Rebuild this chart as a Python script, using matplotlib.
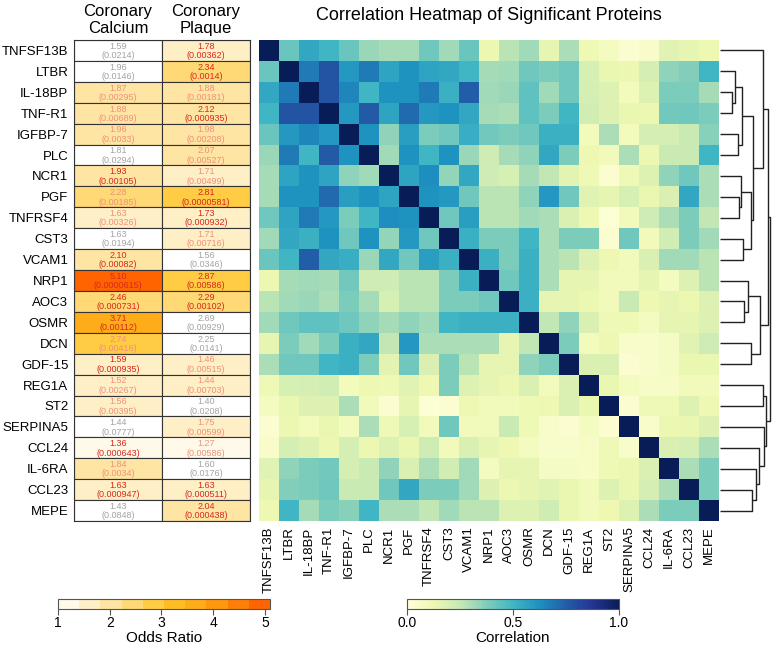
import numpy as np
import matplotlib
matplotlib.use("Agg")
import matplotlib.pyplot as plt
from matplotlib.colors import LinearSegmentedColormap, Normalize
from matplotlib.patches import Rectangle
from matplotlib.cm import ScalarMappable

plt.rcParams['font.family'] = ['Liberation Sans', 'DejaVu Sans']

proteins = ["TNFSF13B", "LTBR", "IL-18BP", "TNF-R1", "IGFBP-7", "PLC", "NCR1", "PGF",
            "TNFRSF4", "CST3", "VCAM1", "NRP1", "AOC3", "OSMR", "DCN", "GDF-15",
            "REG1A", "ST2", "SERPINA5", "CCL24", "IL-6RA", "CCL23", "MEPE"]

# odds ratios and p values, coronary calcium
or_calcium = [1.59, 1.96, 1.87, 1.88, 1.96, 1.81, 1.93, 2.28, 1.63, 1.63, 2.10, 5.10,
              2.46, 3.71, 2.74, 1.59, 1.52, 1.56, 1.44, 1.36, 1.84, 1.63, 1.43]
p_calcium = [0.0214, 0.0146, 0.00295, 0.00689, 0.0033, 0.0294, 0.00105, 0.00185,
             0.00326, 0.0194, 0.00082, 0.0000615, 0.000731, 0.00112, 0.00416, 0.000935,
             0.00267, 0.00395, 0.0777, 0.000643, 0.0034, 0.000947, 0.0848]
# text colour class: r = red, s = salmon, g = grey (not significant)
cls_calcium = ["g", "g", "s", "s", "s", "g", "r", "s", "s", "g", "r", "r",
               "r", "r", "s", "r", "s", "s", "g", "r", "s", "r", "g"]

# coronary plaque
or_plaque = [1.78, 2.34, 1.88, 2.12, 1.98, 2.07, 1.71, 2.81, 1.73, 1.71, 1.56, 2.87,
             2.29, 2.69, 2.25, 1.46, 1.44, 1.40, 1.75, 1.27, 1.60, 1.63, 2.04]
p_plaque = [0.00362, 0.0014, 0.00181, 0.000935, 0.00208, 0.00527, 0.00499, 0.0000581,
            0.000932, 0.00716, 0.0346, 0.00586, 0.00102, 0.00929, 0.0141, 0.00515,
            0.00703, 0.0208, 0.00599, 0.00586, 0.0176, 0.000511, 0.000438]
cls_plaque = ["r", "r", "s", "r", "s", "s", "s", "r", "r", "s", "g", "r",
              "r", "g", "g", "s", "s", "g", "s", "s", "g", "r", "r"]

# upper triangle of the correlation matrix, row i holds columns i+1..22
corr_upper = [
    [0.42, 0.55, 0.50, 0.42, 0.33, 0.31, 0.31, 0.41, 0.32, 0.42, 0.13, 0.27, 0.32, 0.15, 0.30, 0.11, 0.08, 0.03, 0.05, 0.17, 0.15, 0.12],
    [0.68, 0.78, 0.60, 0.68, 0.56, 0.62, 0.56, 0.55, 0.50, 0.31, 0.32, 0.41, 0.38, 0.41, 0.20, 0.14, 0.13, 0.21, 0.35, 0.37, 0.50],
    [0.78, 0.65, 0.50, 0.62, 0.62, 0.68, 0.52, 0.75, 0.32, 0.33, 0.44, 0.32, 0.41, 0.21, 0.18, 0.09, 0.18, 0.38, 0.38, 0.31],
    [0.60, 0.76, 0.56, 0.72, 0.60, 0.62, 0.55, 0.31, 0.30, 0.44, 0.38, 0.50, 0.22, 0.18, 0.14, 0.13, 0.40, 0.41, 0.38],
    [0.62, 0.35, 0.58, 0.38, 0.41, 0.53, 0.40, 0.38, 0.41, 0.52, 0.52, 0.09, 0.30, 0.09, 0.21, 0.21, 0.24, 0.36],
    [0.32, 0.62, 0.50, 0.62, 0.33, 0.23, 0.31, 0.35, 0.55, 0.38, 0.12, 0.10, 0.30, 0.13, 0.24, 0.24, 0.50],
    [0.56, 0.63, 0.34, 0.55, 0.23, 0.20, 0.31, 0.26, 0.16, 0.11, 0.03, 0.11, 0.18, 0.35, 0.41, 0.30],
    [0.62, 0.60, 0.41, 0.27, 0.27, 0.35, 0.60, 0.41, 0.17, 0.15, 0.20, 0.14, 0.19, 0.55, 0.30],
    [0.41, 0.58, 0.27, 0.27, 0.32, 0.30, 0.19, 0.12, 0.02, 0.10, 0.23, 0.30, 0.38, 0.26],
    [0.52, 0.38, 0.38, 0.50, 0.30, 0.38, 0.38, 0.03, 0.41, 0.10, 0.22, 0.38, 0.32],
    [0.52, 0.38, 0.52, 0.30, 0.27, 0.18, 0.12, 0.10, 0.19, 0.32, 0.32, 0.27],
    [0.41, 0.52, 0.30, 0.15, 0.15, 0.10, 0.10, 0.15, 0.08, 0.18, 0.27],
    [0.52, 0.15, 0.15, 0.13, 0.10, 0.24, 0.12, 0.15, 0.13, 0.18],
    [0.26, 0.35, 0.19, 0.11, 0.11, 0.08, 0.15, 0.15, 0.18],
    [0.38, 0.09, 0.12, 0.05, 0.05, 0.07, 0.17, 0.23],
    [0.19, 0.19, 0.03, 0.05, 0.07, 0.14, 0.14],
    [0.14, 0.08, 0.06, 0.06, 0.10, 0.10],
    [0.03, 0.11, 0.11, 0.18, 0.12],
    [0.05, 0.13, 0.14, 0.18],
    [0.19, 0.21, 0.30],
    [0.30, 0.38],
    [0.38],
]

# dendrogram merges: (child a, child b, height)
# leaves are 0..22 in row order, new clusters numbered from 23 on
merges = [
    (2, 3, 35), (1, 23, 46), (4, 5, 53), (24, 25, 66),
    (7, 8, 56), (6, 27, 63), (9, 10, 68), (28, 29, 93),
    (26, 30, 98), (0, 31, 128),
    (12, 13, 73), (11, 33, 83), (14, 15, 93), (34, 35, 121),
    (32, 36, 143),
    (16, 17, 128), (21, 22, 96), (20, 39, 108), (19, 40, 116), (18, 41, 131),
    (38, 42, 138), (37, 43, 151),
]

n = len(proteins)
corr = np.eye(n)
for i, row in enumerate(corr_upper):
    for k, v in enumerate(row):
        j = i + 1 + k
        corr[i, j] = v
        corr[j, i] = v

W, H = 772, 646
fig = plt.figure(figsize=(W / 100, H / 100), dpi=100)


def fax(x0, y0, x1, y1):
    return fig.add_axes([x0 / W, 1 - y1 / H, (x1 - x0) / W, (y1 - y0) / H])


or_cmap = LinearSegmentedColormap.from_list(
    "or", ["#FFF9EA", "#FFE39A", "#FFC62A", "#FF9F10", "#FF6400"]).resampled(10)
or_norm = Normalize(1, 5.1)
txt_colors = {"r": "#D8281C", "s": "#F0907A", "g": "#A3A3A3"}

# ---- odds ratio table
ax_t = fax(74, 40, 250, 521)
ax_t.set_xlim(0, 2)
ax_t.set_ylim(n, 0)
for c, (ors, ps, cl) in enumerate([(or_calcium, p_calcium, cls_calcium),
                                   (or_plaque, p_plaque, cls_plaque)]):
    for i in range(n):
        face = "white" if cl[i] == "g" else or_cmap(or_norm(ors[i]))
        ax_t.add_patch(Rectangle((c, i), 1, 1, facecolor=face,
                                 edgecolor="#333333", lw=0.8))
        col = txt_colors[cl[i]]
        ax_t.text(c + 0.5, i + 0.3, f"{ors[i]:.2f}", ha="center", va="center",
                  fontsize=6.5, color=col)
        ax_t.text(c + 0.5, i + 0.75, "(" + np.format_float_positional(ps[i]) + ")",
                  ha="center", va="center", fontsize=6.5, color=col)
ax_t.set_yticks(np.arange(n) + 0.5)
ax_t.set_yticklabels(proteins, fontsize=9.5)
ax_t.set_xticks([])
ax_t.tick_params(axis="y", length=0, pad=4)
for s in ax_t.spines.values():
    s.set_color("#333333")

fig.text(118 / W, 1 - 20 / H, "Coronary\nCalcium", ha="center", va="center",
         fontsize=12, linespacing=1.15)
fig.text(206 / W, 1 - 20 / H, "Coronary\nPlaque", ha="center", va="center",
         fontsize=12, linespacing=1.15)

# ---- correlation heatmap
ax_h = fax(259, 40, 719, 521)
ax_h.pcolormesh(np.arange(n + 1), np.arange(n + 1), corr, cmap="YlGnBu",
                vmin=0, vmax=1)
ax_h.set_xlim(0, n)
ax_h.set_ylim(n, 0)
ax_h.set_yticks([])
ax_h.set_xticks(np.arange(n) + 0.5)
ax_h.set_xticklabels(proteins, rotation=90, fontsize=9.5)
ax_h.tick_params(axis="x", length=0, pad=4)
for s in ax_h.spines.values():
    s.set_visible(False)
fig.text(489 / W, 1 - 15 / H, "Correlation Heatmap of Significant Proteins",
         ha="center", va="center", fontsize=13)

# ---- dendrogram
ax_d = fax(720, 40, 772, 521)
pos = {i: i + 0.5 for i in range(n)}
hgt = {i: 0 for i in range(n)}
for k, (a, b, h) in enumerate(merges):
    node = n + k
    ax_d.plot([hgt[a], h, h, hgt[b]], [pos[a], pos[a], pos[b], pos[b]],
              color="#222222", lw=1.0, solid_capstyle="butt")
    pos[node] = (pos[a] + pos[b]) / 2
    hgt[node] = h
ax_d.set_xlim(0, 156)
ax_d.set_ylim(n, 0)
ax_d.axis("off")

# ---- colour bars
cax1 = fax(58, 599, 270, 609)
cb1 = fig.colorbar(ScalarMappable(norm=or_norm, cmap=or_cmap), cax=cax1,
                   orientation="horizontal", ticks=[1, 2, 3, 4, 5])
cb1.set_label("Odds Ratio", fontsize=11, labelpad=1)
cb1.ax.tick_params(labelsize=10, length=4, width=0.8, color="#555555", pad=1)
cb1.outline.set_edgecolor("#555555")

cax2 = fax(407, 599, 619, 609)
cb2 = fig.colorbar(ScalarMappable(norm=Normalize(0, 1), cmap="YlGnBu"), cax=cax2,
                   orientation="horizontal", ticks=[0, 0.5, 1.0])
cb2.ax.set_xticklabels(["0.0", "0.5", "1.0"])
cb2.set_label("Correlation", fontsize=11, labelpad=1)
cb2.ax.tick_params(labelsize=10, length=4, width=0.8, color="#555555", pad=1)
cb2.outline.set_edgecolor("#555555")

fig.savefig("out.png", dpi=100)
